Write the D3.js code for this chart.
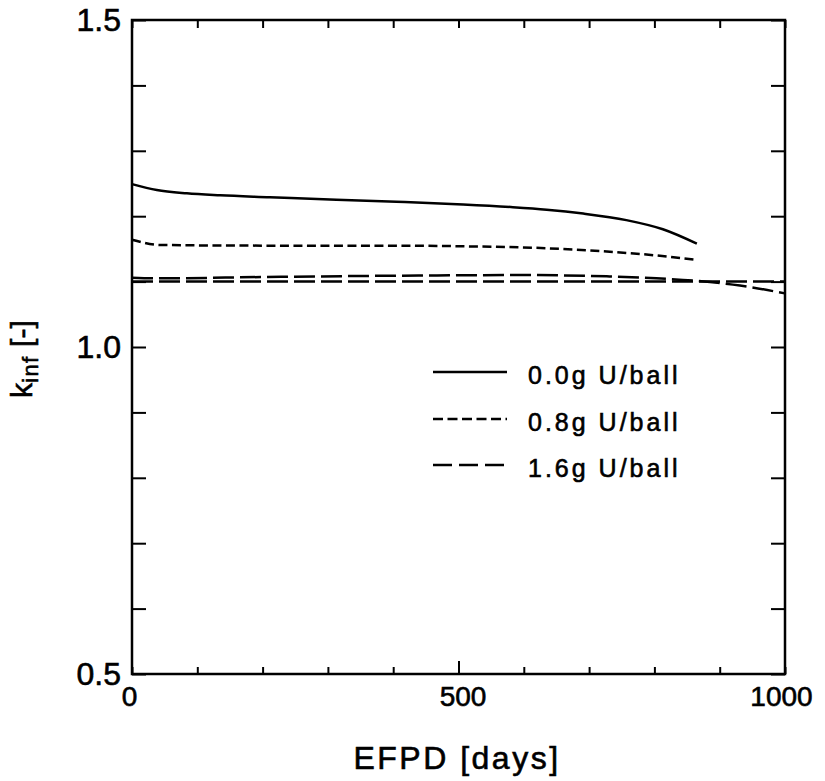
<!DOCTYPE html>
<html>
<head>
<meta charset="utf-8">
<script src="https://cdn.jsdelivr.net/npm/d3@7"></script>
<style>
  html, body { margin: 0; padding: 0; background: #fff; }
  svg { display: block; }
  text { font-family: "Liberation Sans", Arial, Helvetica, sans-serif; fill: #000; stroke: #000; stroke-width: 0.6px; }
</style>
</head>
<body>
<svg id="chart" width="825" height="781"></svg>
<script>
// ---- data ----
const xDomain = [0, 1000];
const yDomain = [0.5, 1.5];
const xTickValues = [0, 100, 200, 300, 400, 500, 600, 700, 800, 900, 1000];
const xTickLabels = {0: "0", 500: "500", 1000: "1000"};
const yTickValues = [0.5, 0.6, 0.7, 0.8, 0.9, 1.0, 1.1, 1.2, 1.3, 1.4, 1.5];
const yTickLabels = {"0.5": "0.5", "1.0": "1.0", "1.5": "1.5"};

const days00 = [0, 38, 84, 135, 211, 313, 405, 507, 580, 635, 691, 757, 813, 865];
const kinf00 = [1.249, 1.240, 1.235, 1.232, 1.229, 1.225, 1.222, 1.218, 1.214, 1.210, 1.204, 1.194, 1.180, 1.158];

const days08 = [0, 43, 200, 400, 507, 635, 727, 803, 865];
const kinf08 = [1.164, 1.156, 1.155, 1.155, 1.154, 1.151, 1.146, 1.140, 1.133];

const days16 = [0, 40, 200, 400, 600, 727, 803, 865, 931, 1000];
const kinf16 = [1.106, 1.105, 1.107, 1.109, 1.110, 1.108, 1.105, 1.101, 1.094, 1.082];

const days16b = [0, 1000];
const kinf16b = [1.100, 1.100];

const legendLabels = ["0.0g U/ball", "0.8g U/ball", "1.6g U/ball"];

// ---- layout ----
const svg = d3.select("#chart");
const pLeft = 132, pRight = 785, pTop = 20, pBottom = 674;
const x = d3.scaleLinear().domain(xDomain).range([pLeft, pRight]);
const y = d3.scaleLinear().domain(yDomain).range([pBottom, pTop]);

const styles = [
  {dash: null},
  {dash: "9,4.5"},
  {dash: "21,6"},
  {dash: "21,6"}
];

// frame
svg.append("rect")
  .attr("x", pLeft).attr("y", pTop)
  .attr("width", pRight - pLeft).attr("height", pBottom - pTop)
  .attr("fill", "none").attr("stroke", "#000").attr("stroke-width", 2.5);

function styleAxis(g) {
  g.select(".domain").remove();
  g.selectAll(".tick line").attr("stroke", "#000").attr("stroke-width", 2);
}

// bottom axis
const gx = svg.append("g").attr("transform", `translate(0,${pBottom})`)
  .call(d3.axisBottom(x).tickValues(xTickValues).tickSize(-7).tickPadding(12)
    .tickFormat(d => xTickLabels[d] || ""));
styleAxis(gx);
gx.selectAll(".tick line").attr("y2", d => d === 500 ? -13 : -7);
gx.selectAll(".tick text").attr("font-size", 28).attr("font-family", "Liberation Sans, Arial, sans-serif")
  .attr("dx", d => d === 0 ? -3 : (d === 1000 ? -4 : 4));

// top axis
const gt = svg.append("g").attr("transform", `translate(0,${pTop})`)
  .call(d3.axisTop(x).tickValues(xTickValues).tickSize(-8).tickFormat(""));
styleAxis(gt);

// left axis
const gy = svg.append("g").attr("transform", `translate(${pLeft},0)`)
  .call(d3.axisLeft(y).tickValues(yTickValues).tickSize(-14).tickPadding(11)
    .tickFormat(d => yTickLabels[d.toFixed(1)] || ""));
styleAxis(gy);
gy.selectAll(".tick text").attr("font-size", 32).attr("font-family", "Liberation Sans, Arial, sans-serif");

// right axis
const gr = svg.append("g").attr("transform", `translate(${pRight},0)`)
  .call(d3.axisRight(y).tickValues(yTickValues).tickSize(-14).tickFormat(""));
styleAxis(gr);

// lines
const line = d3.line().x(d => x(d[0])).y(d => y(d[1])).curve(d3.curveMonotoneX);
const series = [
  d3.zip(days00, kinf00),
  d3.zip(days08, kinf08),
  d3.zip(days16, kinf16),
  d3.zip(days16b, kinf16b)
];
series.forEach((s, i) => {
  svg.append("path").datum(s)
    .attr("d", line)
    .attr("fill", "none").attr("stroke", "#000").attr("stroke-width", 2.5)
    .attr("stroke-dasharray", styles[i].dash);
});

// legend
const legY = [372, 419, 465];
legendLabels.forEach((lab, i) => {
  svg.append("line")
    .attr("x1", 433).attr("x2", 507)
    .attr("y1", legY[i]).attr("y2", legY[i])
    .attr("stroke", "#000").attr("stroke-width", 2.5)
    .attr("stroke-dasharray", i === 1 ? "10,4.5" : (i === 2 ? "19,7" : null));
  svg.append("text")
    .attr("x", 528).attr("y", legY[i] + 12)
    .attr("font-size", 25).attr("letter-spacing", 3)
    .text(lab);
});

// axis titles
svg.append("text")
  .attr("x", 457).attr("y", 769)
  .attr("text-anchor", "middle")
  .attr("font-size", 32).attr("letter-spacing", 2.5)
  .text("EFPD [days]");

const yl = svg.append("text")
  .attr("transform", "translate(32,398) rotate(-90)")
  .attr("font-size", 30);
yl.append("tspan").text("k");
yl.append("tspan").attr("font-size", 22).attr("dy", 6).attr("letter-spacing", 1.5).text("inf");
yl.append("tspan").attr("dy", -6).text(" [-]");
</script>
</body>
</html>
